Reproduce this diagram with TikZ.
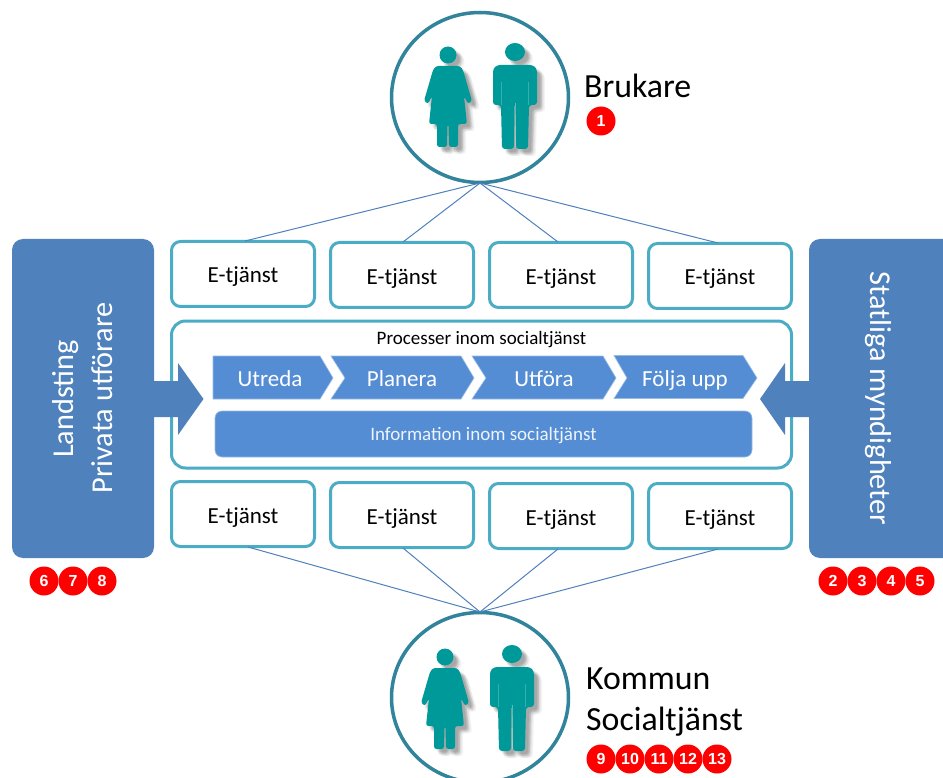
\documentclass[tikz,border=0pt]{standalone}
\usepackage{fontspec}
\usetikzlibrary{shapes.geometric}
\setmainfont{Carlito}
\newfontfamily\badgefont{Liberation Sans}
\definecolor{ring}{HTML}{31849B}
\definecolor{teal1}{HTML}{009999}
\definecolor{frame}{HTML}{4BACC6}
\definecolor{panel}{HTML}{4F81BD}
\definecolor{proc}{HTML}{548DD4}
\newcommand\womanshape{
 (448,55) circle[x radius=8.5,y radius=8.5]
 [rounded corners=2.5] (436,66) -- (460,66) -- (463,70) -- (472,101) -- (468,104) -- (464,96) -- (467,124) -- (458,124) -- (458,147) -- (449,147) -- (448.5,124) -- (447.5,124) -- (447,147) -- (437,147) -- (437,124) -- (429,124) -- (432,96) -- (428,104) -- (424,101) -- (433,70) -- cycle}
\newcommand\manshape{
 (515,52) circle[x radius=10,y radius=9]
 [rounded corners=3] (497,65) -- (533,65) -- (537,69) -- (537,105) -- (529,105) -- (528,149) -- (516,149) -- (515,103) -- (514.5,103) -- (514,149) -- (502,149) -- (501,105) -- (493,105) -- (493,69) -- cycle}
\newcommand\figures{
 \foreach \dx/\dy in {3/3,4/5,5/4,6/6,7/5,5/7,8/7,3/5,5/3}{
  \fill[black,opacity=.045,shift={(\dx,\dy)}] \womanshape;
  \fill[black,opacity=.045,shift={(\dx,\dy)}] \manshape;
 }
 \fill[teal1] \womanshape;
 \fill[teal1] \manshape;
 \draw[white,opacity=.35,line width=.5] (515,103) -- (515,147);
 \draw[white,opacity=.22,line width=.5] (501.5,82) -- (501.5,105) (528.5,82) -- (528.5,105);
}
\tikzset{
 etj/.style={draw=frame,line width=3,rounded corners=9,fill=white,minimum width=143,minimum height=65,inner sep=0,font=\fontsize{23}{27}\selectfont,text=black,text height=20,text depth=2},
 ringc/.style={ellipse,draw=ring,line width=3.5,fill=white,minimum width=177,minimum height=170,inner sep=0},
 link/.style={draw=panel,line width=1},
 sidep/.style={fill=panel,rounded corners=11},
 badge/.style={circle,fill=red,minimum size=29,inner sep=0,text=white,font=\badgefont\bfseries\fontsize{16}{18}\selectfont},
 flow/.style={fill=proc,draw=proc!60!white,line width=.6},
 flowt/.style={text=white,font=\fontsize{23}{27}\selectfont,inner sep=0,text height=14,text depth=4},
 sidet/.style={text=white,font=\fontsize{30.3}{36}\selectfont,inner sep=0},
 big/.style={text=black,font=\fontsize{33.8}{40}\selectfont,inner sep=0,anchor=base west},
}
\begin{document}
\begin{tikzpicture}[x=1pt,y=-1pt]
\clip (0,0) rectangle (943,778);
\fill[white] (0,0) rectangle (943,778);
% e-services
\node[etj] (t1) at (243,274) {E-tjänst};
\node[etj] (t2) at (402,275) {E-tjänst};
\node[etj] (t3) at (561,275) {E-tjänst};
\node[etj] (t4) at (720,276) {E-tjänst};
\node[etj] (u1) at (243,514) {E-tjänst};
\node[etj] (u2) at (402,515) {E-tjänst};
\node[etj] (u3) at (561,516) {E-tjänst};
\node[etj] (u4) at (720,516) {E-tjänst};
% circles
\node[ringc] (top) at (480,97.5) {};
\node[ringc] (bot) at (480,697.5) {};
\coordinate (topj) at (480,183);
\coordinate (botj) at (480,612);
\coordinate (a1) at (245,241);
\coordinate (a2) at (403,242);
\coordinate (a3) at (558,242);
\coordinate (a4) at (718,243);
\coordinate (d1) at (248,547);
\coordinate (d2) at (403,548);
\coordinate (d3) at (558,549);
\coordinate (d4) at (718,549);
\foreach \n in {a1,a2,a3,a4} \draw[link] (topj) -- (\n);
\foreach \n in {d1,d2,d3,d4} \draw[link] (botj) -- (\n);
\figures
\begin{scope}[shift={(-3,602)}]\figures\end{scope}
% main frame
\node[draw=frame,line width=3,rounded corners=14,minimum width=620,minimum height=147,inner sep=0] (main) at (481.5,394.5) {};
\node[inner sep=0,font=\fontsize{19}{22}\selectfont] (ptitle) at (481.5,340) {Processer inom socialtjänst};
% chevrons
\path[flow] (213,356) -- (320,356) -- (333,378) -- (320,399) -- (213,399) -- cycle;
\path[flow] (331,356) -- (461,356) -- (474,378) -- (461,399) -- (331,399) -- (345,378) -- cycle;
\path[flow] (472,356) -- (603,356) -- (616,378) -- (603,399) -- (472,399) -- (486,378) -- cycle;
\path[flow] (614,355.5) -- (743,355.5) -- (757,378) -- (743,398.5) -- (614,398.5) -- (627,378) -- cycle;
\node[flowt] (c1) at (270,381) {Utreda};
\node[flowt] (c2) at (402,381) {Planera};
\node[flowt] (c3) at (544,381) {Utföra};
\node[flowt] (c4) at (685,381) {Följa upp};
\node[fill=proc,draw=proc!60!white,line width=.6,rounded corners=7,minimum width=537,minimum height=46,inner sep=0,text=white,font=\fontsize{19}{22}\selectfont,text height=14,text depth=2] (info) at (483.5,434) {\textcolor{white!90!proc}{Information inom socialtjänst}};
% side panels
\path[sidep] (12,239) rectangle (154,558);
\node[minimum width=142,minimum height=319,inner sep=0] (left) at (83,398.5) {};
\path[sidep] (809,239) rectangle (970,558);
\node[minimum width=134,minimum height=319,inner sep=0] (right) at (876,398.5) {};
% arrows
\fill[panel] (left.east |- 0,381) -- (178,381) -- (178,363) -- (203.5,399) -- (178,435) -- (178,417) -- (left.east |- 0,417) -- cycle;
\fill[panel] (right.west |- 0,381) -- (785,381) -- (785,363) -- (760,399) -- (785,435) -- (785,417) -- (right.west |- 0,417) -- cycle;
\node[sidet,rotate=90] (l1) at (65.5,399) {Landsting};
\node[sidet,rotate=90] (l2) at (102,398) {Privata utförare};
\node[sidet,rotate=-90] (r1) at (878,398.5) {Statliga myndigheter};
% labels
\node[big] (brukare) at (584,98) {Brukare};
\node[big] (kommun) at (586,689) {Kommun};
\node[big] (soc) at (586,730) {Socialtjänst};
% badges
\node[badge] (b1) at (601,121) {1};
\foreach \t/\x in {6/44,7/73,8/102,2/833,3/862,4/891,5/920}{\node[badge] (b\t) at (\x,581) {\t};}
\foreach \t/\x in {9/601,10/630,11/659,12/688,13/717}{\node[badge] (b\t) at (\x,759) {\t};}
\end{tikzpicture}
\end{document}
